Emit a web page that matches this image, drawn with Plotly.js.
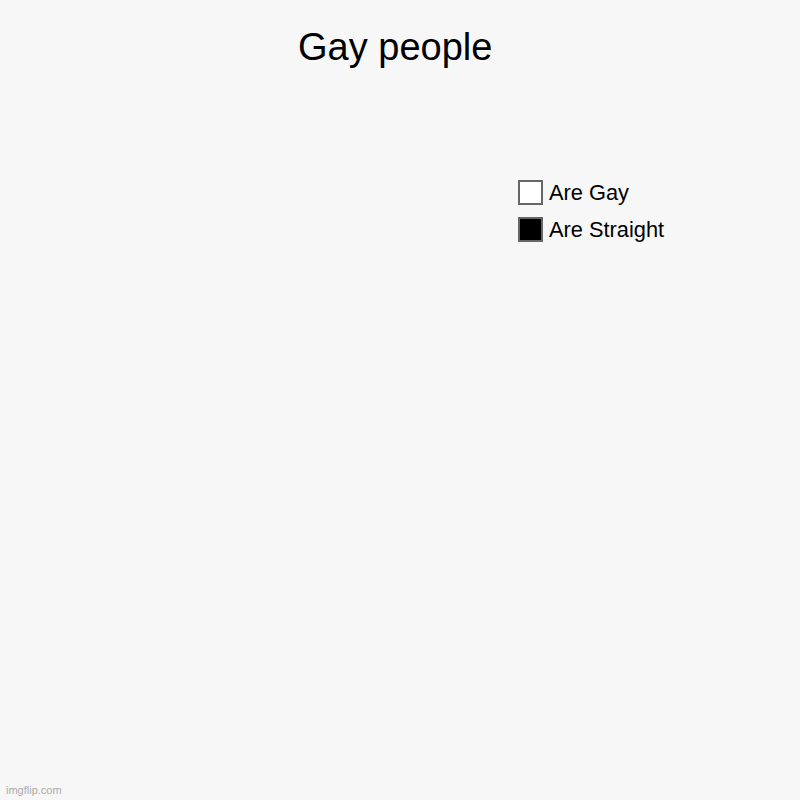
<!DOCTYPE html>
<html>
<head>
<meta charset="utf-8">
<script src="https://cdn.plot.ly/plotly-3.0.1.min.js"></script>
<style>
  html, body { margin: 0; padding: 0; background: #f7f7f7; }
  #chart { width: 800px; height: 800px; }
</style>
</head>
<body>
<div id="chart"></div>
<script>
// ─── Data ───
const labels = ["Are Gay", "Are Straight"];
const values = [0, 0];
const colors = ["#ffffff", "#000000"];

// Plotly draws no legend entries for zero-value slices, so the legend
// is laid out by hand from the same labels/colours.
const legendLeft = 519 / 800;
const legendTop = 1 - 181 / 800;
const boxW = 23 / 800;
const boxH = 23 / 800;
const rowStep = 37 / 800;

const legendShapes = labels.map((l, i) => ({
  type: "rect",
  xref: "paper",
  yref: "paper",
  x0: legendLeft,
  x1: legendLeft + boxW,
  y0: legendTop - i * rowStep - boxH,
  y1: legendTop - i * rowStep,
  fillcolor: colors[i],
  line: { color: "#666666", width: 2 },
}));

const legendText = labels.map((l, i) => ({
  text: l,
  xref: "paper",
  yref: "paper",
  x: legendLeft + boxW + 5 / 800,
  y: legendTop - i * rowStep - boxH / 2,
  xanchor: "left",
  yanchor: "middle",
  showarrow: false,
  font: { size: 21.8, color: "#000" },
}));

const trace = {
  type: "pie",
  labels: labels,
  values: values,
  sort: false,
  marker: { colors: colors, line: { color: "#666666", width: 2 } },
  textinfo: "none",
  showlegend: false,
  domain: { x: [0.05, 0.6], y: [0.1, 0.8] },
};

const layout = {
  width: 800,
  height: 800,
  paper_bgcolor: "#f7f7f7",
  plot_bgcolor: "#f7f7f7",
  font: { family: "Liberation Sans, Arial, sans-serif", color: "#000" },
  title: {
    text: "Gay people",
    font: { size: 38, color: "#000" },
    x: 0.494,
    xanchor: "center",
    y: 0.942,
    yanchor: "middle",
  },
  margin: { l: 0, r: 0, t: 0, b: 0 },
  showlegend: false,
  shapes: legendShapes,
  annotations: legendText.concat([{
    text: "imgflip.com",
    xref: "paper",
    yref: "paper",
    x: 0.005,
    y: 0.003,
    xanchor: "left",
    yanchor: "bottom",
    showarrow: false,
    font: { size: 11, color: "#aaaaaa" },
  }]),
};

Plotly.newPlot("chart", [trace], layout, { displayModeBar: false, staticPlot: true });
</script>
</body>
</html>
